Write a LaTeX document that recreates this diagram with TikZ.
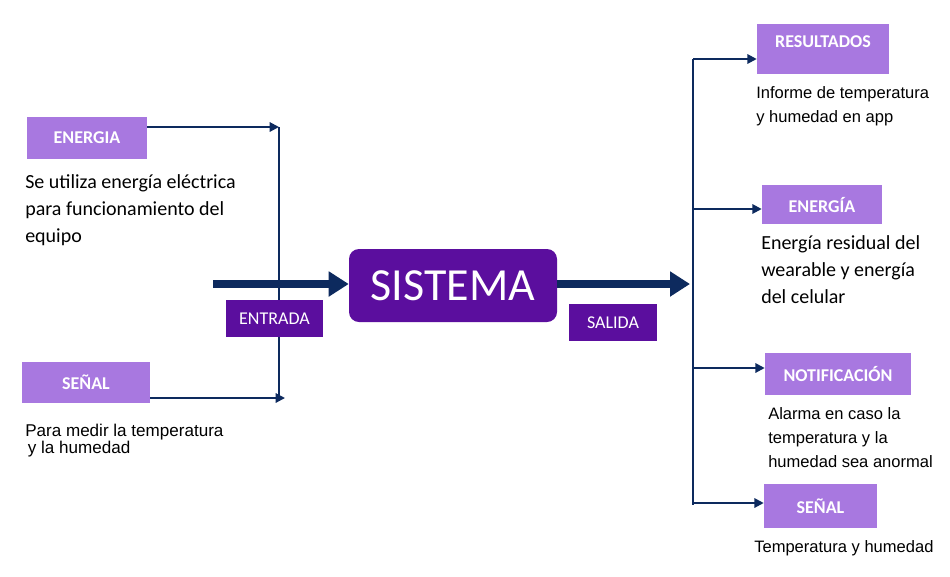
\documentclass[tikz,border=0pt]{standalone}
\usepackage{fontspec}
\setmainfont{Carlito}
\newfontfamily\arialf{Liberation Sans}
\usetikzlibrary{arrows.meta}
\definecolor{lav}{HTML}{A878E0}
\definecolor{dpur}{HTML}{5B0E9E}
\definecolor{navy}{HTML}{0D2A5E}
\begin{document}
\begin{tikzpicture}[x=0.75pt,y=-0.75pt,
 lbox/.style={fill=lav, text=white, font=\fontsize{13.5}{16}\selectfont\bfseries, inner sep=0pt},
 dbox/.style={fill=dpur, text=white, font=\fontsize{13.5}{16}\selectfont, inner sep=0pt},
 thinarr/.style={navy, line width=1.5pt, -{Triangle[length=7pt,width=7pt]}},
 thickarr/.style={navy, line width=6pt, -{Triangle[length=15pt,width=18pt]}},
 vline/.style={navy, line width=1.5pt},
 cal/.style={font=\fontsize{15}{20.25}\selectfont, align=left, inner sep=0pt, anchor=base west},
 ari/.style={font=\arialf\fontsize{12.4}{18}\selectfont, align=left, inner sep=0pt, anchor=base west}]
\useasboundingbox[fill=white] (0,0) rectangle (950,576);
% coordinates
\coordinate (lt) at (279,127);
\coordinate (lb) at (279,398);
\coordinate (lbt) at (285,398);
\coordinate (rt) at (693,59);
\coordinate (rb) at (693,505);
\coordinate (r2) at (693,209);
\coordinate (r3) at (693,368);
\coordinate (r4) at (693,503);
\coordinate (ts) at (213,284);
\coordinate (te) at (690,284);
% vertical lines
\draw[vline] (lt) -- (lb);
\draw[vline] (rt) -- (rb);
% boxes
\node[lbox, minimum width=90pt, minimum height=31.5pt] (en) at (87,138) {ENERGIA};
\node[lbox, minimum width=96pt, minimum height=30.75pt] (sl) at (86,382.5) {SEÑAL};
\node[dbox, minimum width=72.75pt, minimum height=27.75pt] (entr) at (274.5,318.5) {ENTRADA};
\node[fill=dpur, rounded corners=7.5pt, minimum width=156pt, minimum height=54.75pt, text=white, font=\fontsize{34.5}{40}\selectfont, inner sep=0pt] (sis) at (453,285.5) {SISTEMA};
\node[dbox, minimum width=66pt, minimum height=27.75pt] (sal) at (613,322.5) {SALIDA};
\node[lbox, minimum width=99pt, minimum height=37.5pt] (res) at (823,49) {};
\node[lbox, fill=none] (rest) at (823,42) {RESULTADOS};
\node[lbox, minimum width=90pt, minimum height=29.25pt] (en2) at (822,204.5) {ENERGÍA};
\node[lbox, minimum width=109.5pt, minimum height=31.5pt] (notif) at (838,374) {NOTIFICACIÓN};
\node[lbox, minimum width=84.75pt, minimum height=33pt] (s2) at (820.5,506) {SEÑAL};
% arrows
\draw[thinarr] (en.east |- lt) -- (lt);
\draw[thinarr] (sl.east |- lbt) -- (lbt);
\draw[thickarr] (ts) -- (sis.west |- ts);
\draw[thickarr] (sis.east |- te) -- (te);
\draw[thinarr] (rt) -- (res.west |- rt);
\draw[thinarr] (r2) -- (en2.west |- r2);
\draw[thinarr] (r3) -- (notif.west |- r3);
\draw[thinarr] (r4) -- (s2.west |- r4);
% texts (base anchor = baseline of last line)
\node[cal] (t1) at (25,242) {Se utiliza energía eléctrica\\para funcionamiento del\\equipo};
\node[ari, font=\arialf\fontsize{12.8}{12.75}\selectfont] (t2) at (25,453) {Para medir\ la temperatura\\\hspace{2pt}y la humedad};
\node[ari] (t3) at (756,122) {Informe de temperatura\\y humedad en app};
\node[cal, font=\fontsize{15}{19.9}\selectfont] (t4) at (761,303) {Energía residual del\\wearable y energía\\del celular};
\node[ari] (t5) at (768,467) {Alarma en caso la\\temperatura y la\\humedad sea anormal};
\node[ari] (t6) at (754,552) {Temperatura y humedad};
\end{tikzpicture}
\end{document}
